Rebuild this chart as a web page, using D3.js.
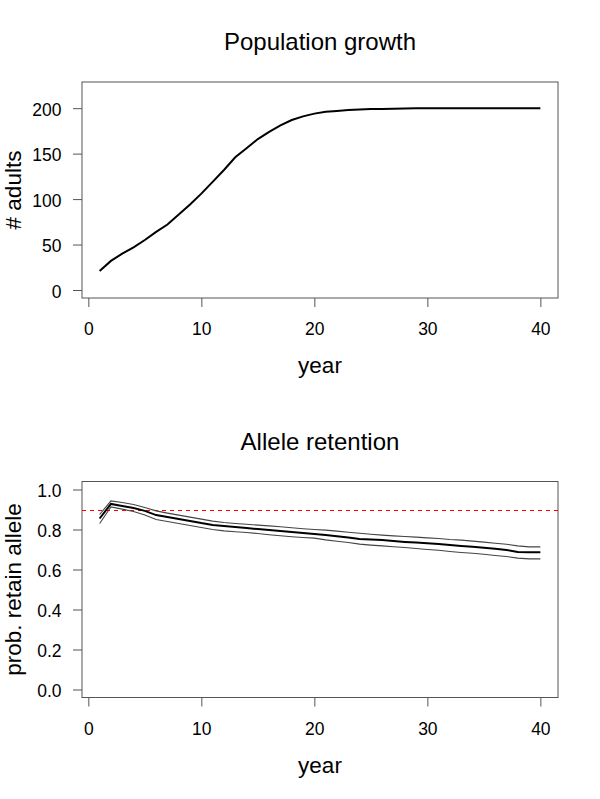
<!DOCTYPE html>
<html>
<head>
<meta charset="utf-8">
<script src="https://cdn.jsdelivr.net/npm/d3@7"></script>
<style>
  html, body { margin: 0; padding: 0; background: #fff; }
  svg text { font-family: "Liberation Sans", Arial, Helvetica, sans-serif; fill: #000; }
</style>
</head>
<body>
<svg id="chart" width="600" height="799"></svg>
<script>
// ---- data ----
const years = d3.range(1, 41);
const adults = [21, 32, 40, 47, 55, 64, 72, 83, 94, 106,
                119, 132, 146, 156, 166, 174, 181, 187, 191, 194,
                196, 197, 198, 198.5, 199, 199.2, 199.4, 199.7, 200, 200,
                200, 200, 200, 200, 200, 200, 200, 200, 200, 200];
const retainMean = [0.855, 0.928, 0.918, 0.907, 0.893, 0.872, 0.862, 0.852, 0.843, 0.832,
                    0.823, 0.817, 0.812, 0.808, 0.802, 0.797, 0.792, 0.787, 0.782, 0.778,
                    0.772, 0.766, 0.760, 0.753, 0.750, 0.747, 0.742, 0.738, 0.735, 0.731,
                    0.727, 0.722, 0.718, 0.714, 0.709, 0.704, 0.698, 0.688, 0.686, 0.686];
const retainUpper = [0.875, 0.943, 0.935, 0.925, 0.910, 0.893, 0.882, 0.872, 0.862, 0.852,
                     0.842, 0.835, 0.830, 0.826, 0.822, 0.818, 0.814, 0.809, 0.804, 0.800,
                     0.797, 0.792, 0.786, 0.781, 0.776, 0.772, 0.768, 0.765, 0.762, 0.758,
                     0.755, 0.750, 0.747, 0.742, 0.737, 0.731, 0.726, 0.718, 0.713, 0.713];
const retainLower = [0.830, 0.913, 0.902, 0.890, 0.873, 0.850, 0.840, 0.830, 0.820, 0.810,
                     0.800, 0.793, 0.789, 0.785, 0.780, 0.774, 0.769, 0.764, 0.760, 0.757,
                     0.748, 0.741, 0.735, 0.727, 0.722, 0.718, 0.714, 0.710, 0.705, 0.700,
                     0.696, 0.690, 0.685, 0.681, 0.676, 0.670, 0.665, 0.657, 0.653, 0.653];
const targetRetention = 0.9;
const xTicks = [0, 10, 20, 30, 40];
const yTicksTop = [0, 50, 100, 150, 200];
const yTicksBottom = [0, 0.2, 0.4, 0.6, 0.8, 1.0];
const titles = ["Population growth", "Allele retention"];
const xLabel = "year";
const yLabels = ["# adults", "prob. retain allele"];

// ---- layout ----
const svg = d3.select("#chart");
const left = 82, right = 558;
const panels = [
  { top: 82, bottom: 298, ylim: [0, 220], yTicks: yTicksTop, fmt: d3.format("d") },
  { top: 481.5, bottom: 697.5, ylim: [0, 1], yTicks: yTicksBottom, fmt: d3.format(".1f") }
];
function expand(lim) { const d = (lim[1] - lim[0]) * 0.04; return [lim[0] - d, lim[1] + d]; }

const x = d3.scaleLinear().domain(expand([1, 40])).range([left, right]);
const axisColor = "#555";
const tickFont = 17.5, labFont = 22.5, titleFont = 24;

panels.forEach((p, i) => {
  const y = d3.scaleLinear().domain(expand(p.ylim)).range([p.bottom, p.top]);
  p.y = y;
  const g = svg.append("g");

  // x axis
  const gx = g.append("g").attr("transform", `translate(0,${p.bottom})`)
    .call(d3.axisBottom(x).tickValues(xTicks).tickSize(9).tickSizeOuter(0).tickFormat(d3.format("d")));
  gx.select(".domain").remove();
  gx.selectAll(".tick line").attr("stroke", axisColor);
  gx.selectAll(".tick text").attr("y", 37).attr("dy", 0)
    .style("font-size", tickFont + "px").attr("fill", "#000");

  // y axis
  const gy = g.append("g").attr("transform", `translate(${left},0)`)
    .call(d3.axisLeft(y).tickValues(p.yTicks).tickSize(9).tickSizeOuter(0).tickFormat(p.fmt));
  gy.select(".domain").remove();
  gy.selectAll(".tick line").attr("stroke", axisColor);
  gy.selectAll(".tick text").attr("x", -20.5).attr("dy", "0.4em")
    .style("font-size", tickFont + "px").attr("fill", "#000");

  // box
  g.append("rect").attr("x", left).attr("y", p.top)
    .attr("width", right - left).attr("height", p.bottom - p.top)
    .attr("fill", "none").attr("stroke", axisColor).attr("stroke-width", 1);

  // titles and labels
  g.append("text").attr("x", (left + right) / 2).attr("y", p.top - 32)
    .attr("text-anchor", "middle")
    .style("font-size", titleFont + "px").text(titles[i]);
  g.append("text").attr("x", (left + right) / 2).attr("y", p.bottom + 75)
    .attr("text-anchor", "middle")
    .style("font-size", labFont + "px").text(xLabel);
  g.append("text")
    .attr("transform", `translate(${left - 61.5},${(p.top + p.bottom) / 2}) rotate(-90)`)
    .attr("text-anchor", "middle")
    .style("font-size", labFont + "px").text(yLabels[i]);
});

// ---- top panel: population ----
const yT = panels[0].y;
svg.append("path").datum(years.map((yr, k) => [yr, adults[k]]))
  .attr("fill", "none").attr("stroke", "#000").attr("stroke-width", 2)
  .attr("d", d3.line().x(d => x(d[0])).y(d => yT(d[1])));

// ---- bottom panel: allele retention ----
const yB = panels[1].y;
const yTarget = Math.round(yB(targetRetention)) + 0.5;
svg.append("line")
  .attr("x1", left).attr("x2", right)
  .attr("y1", yTarget).attr("y2", yTarget)
  .attr("stroke", "#ff0000").attr("stroke-width", 1.3).attr("stroke-dasharray", "4,4")
  .attr("shape-rendering", "crispEdges");

const lineB = d3.line().x(d => x(d[0])).y(d => yB(d[1]));
[retainUpper, retainLower].forEach(s => {
  svg.append("path").datum(years.map((yr, k) => [yr, s[k]]))
    .attr("fill", "none").attr("stroke", "#444").attr("stroke-width", 1.1)
    .attr("d", lineB);
});
svg.append("path").datum(years.map((yr, k) => [yr, retainMean[k]]))
  .attr("fill", "none").attr("stroke", "#000").attr("stroke-width", 2)
  .attr("d", lineB);
</script>
</body>
</html>
